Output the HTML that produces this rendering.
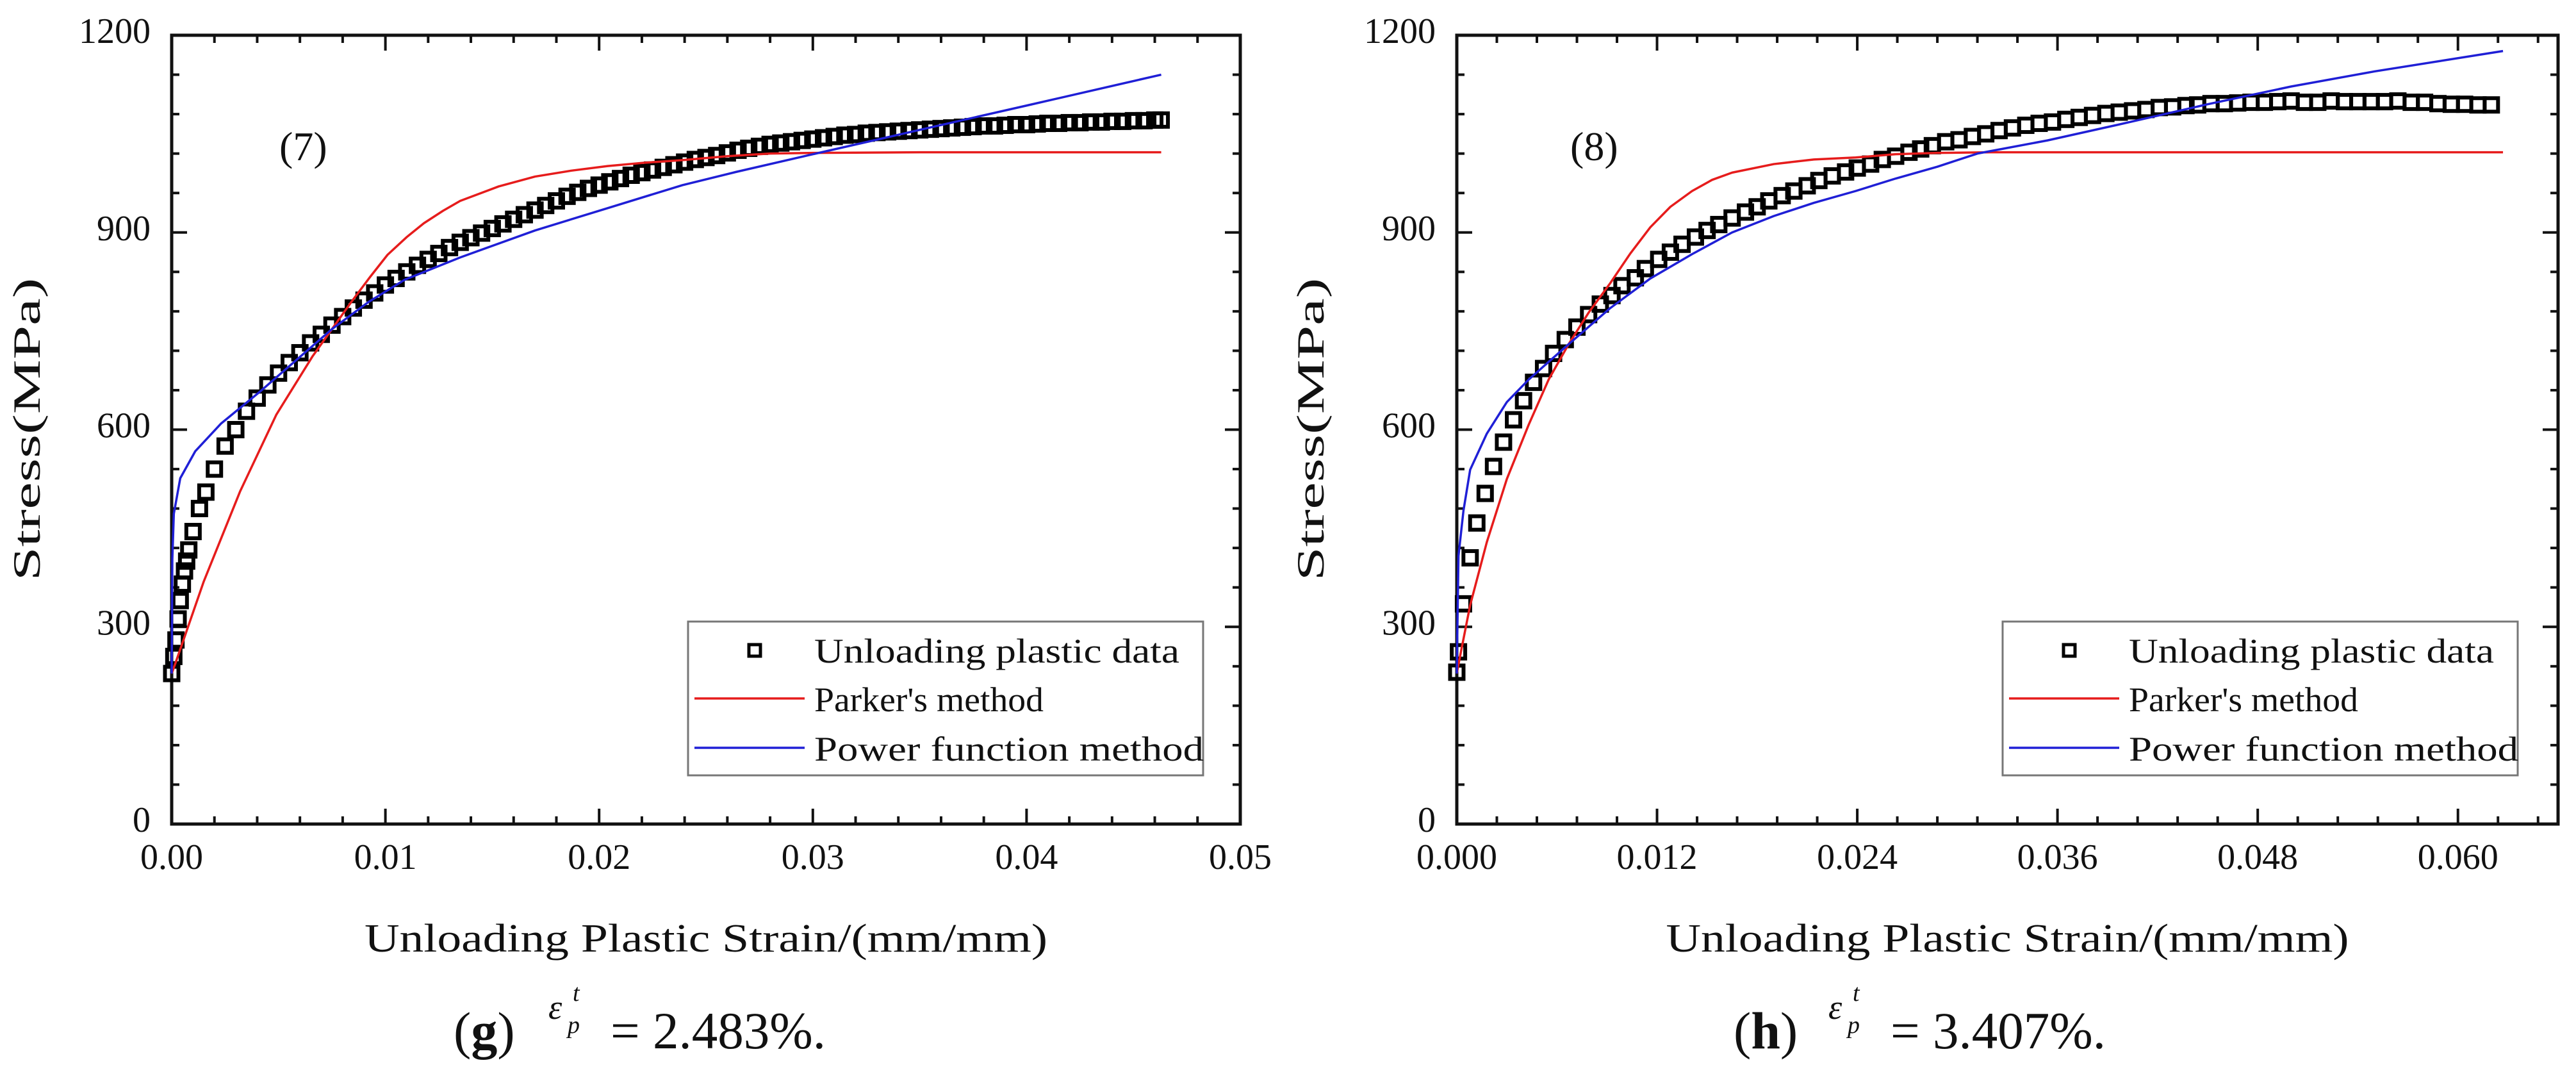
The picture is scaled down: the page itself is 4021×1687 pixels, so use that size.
<!DOCTYPE html>
<html><head><meta charset="utf-8"><style>
html,body{margin:0;padding:0;background:#fff;}
svg{display:block;}
text{font-family:"Liberation Serif",serif;fill:#111;}
</style></head><body>
<svg id="chart" xmlns="http://www.w3.org/2000/svg" width="4021" height="1687" viewBox="0 0 4021 1687">
<rect width="4021" height="1687" fill="#fff"/>
</svg>
<script>
// ---------- data: panel (g) ----------
const gDataX=[0,.0001,.0002,.0003,.0004,.0005,.0006,.0007,.0008,.001,.0013,.0016,.002,.0025,.003,.0035,.004,.0045,.005,.0055,.006,.0065,.007,.0075,.008,.0085,.009,.0095,.010,.0105,.011,.0115,.012,.0125,.013,.0135,.014,.0145,.015,.0155,.016,.0165,.017,.0175,.018,.0185,.019,.0195,.020,.0205,.021,.0215,.022,.0225,.023,.0235,.024,.0245,.025,.0255,.026,.0265,.027,.0275,.028,.0285,.029,.0295,.030,.0305,.031,.0315,.032,.0325,.033,.0335,.034,.0345,.035,.0355,.036,.0365,.037,.0375,.038,.0385,.039,.0395,.040,.0405,.041,.0415,.042,.0425,.043,.0435,.044,.0445,.045,.0455,.046,.0463];
const gDataY=[229,255,280,312,340,365,385,400,417,445,480,505,540,575,600,628,648,668,686,702,717,732,745,759,772,785,797,808,820,830,840,850,859,868,877,885,892,899,906,913,920,927,934,941,948,955,961,967,972,977,982,987,991,995,999,1003,1007,1011,1014,1017,1021,1025,1028,1031,1034,1036,1038,1040,1042,1044,1046,1048,1049,1051,1052,1053,1054,1055,1056,1057,1058,1059,1060,1061,1062,1062,1063,1064,1064,1065,1066,1066,1067,1067,1068,1068,1069,1069,1070,1070,1071,1071];
const gParkerX=[0,.0002,.0015,.0032,.0049,.0066,.0084,.0093,.0101,.011,.0118,.0127,.0135,.0153,.017,.0187,.0204,.0221,.0239,.026,.028,.030,.035,.040,.0463];
const gParkerY=[229,247,369,506,623,712,794,833,866,893,914,933,948,970,985,994,1001,1006,1010,1016,1020,1021,1022,1022,1022];
const gPowerX=[0,.00003,.0001,.0004,.0011,.0023,.0041,.0058,.0075,.0092,.0109,.0135,.017,.0204,.0239,.0264,.030,.035,.040,.0463];
const gPowerY=[229,403,472,526,567,609,657,705,753,794,828,862,903,937,972,992,1019,1056,1093,1140];
const gXTicks=[0,0.01,0.02,0.03,0.04,0.05];
const gXLabels=["0.00","0.01","0.02","0.03","0.04","0.05"];
// ---------- data: panel (h) ----------
const hDataX=[0,.0001,.0004,.0008,.0012,.0017,.0022,.0028,.0034,.004,.0046,.0052,.0058,.0065,.0072,.0079,.0086,.0093,.0099,.0107,.0113,.0121,.0128,.0135,.0143,.015,.0157,.0165,.0173,.018,.0187,.0195,.0202,.021,.0217,.0225,.0233,.024,.0248,.0255,.0263,.0271,.0278,.0285,.0293,.0301,.0309,.0317,.0325,.0333,.0341,.0349,.0357,.0365,.0373,.0381,.0389,.0397,.0405,.0413,.0421,.0429,.0437,.0444,.0452,.046,.0468,.0476,.0484,.0492,.05,.0508,.0516,.0524,.0532,.054,.0548,.0556,.0564,.0572,.058,.0588,.0596,.0604,.0612,.062];
const hDataY=[231,262,335,405,458,503,544,581,615,644,672,693,716,737,756,775,791,804,819,831,845,859,870,882,893,903,912,922,931,939,948,956,963,971,979,986,992,998,1004,1011,1016,1022,1027,1032,1038,1041,1046,1050,1055,1059,1063,1066,1068,1072,1075,1078,1081,1083,1085,1087,1090,1091,1093,1094,1096,1096,1097,1098,1098,1099,1100,1098,1098,1100,1099,1099,1099,1099,1100,1098,1098,1096,1095,1095,1094,1094];
const hParkerX=[0,.0001,.0008,.0018,.003,.0043,.0055,.0067,.0079,.0092,.0104,.0116,.0128,.0141,.0153,.0165,.019,.0214,.0239,.0263,.0288,.032,.040,.050,.0627];
const hParkerY=[229,243,333,429,525,607,676,730,778,823,868,908,939,963,980,991,1004,1011,1014,1019,1021,1022,1022,1022,1022];
const hPowerX=[0,.00002,.0001,.0004,.0008,.0018,.003,.0043,.0055,.0067,.0092,.0116,.0141,.0165,.019,.0214,.0239,.0263,.0288,.0312,.0354,.040,.045,.050,.055,.0627];
const hPowerY=[229,272,408,477,539,594,642,676,703,730,785,830,867,900,925,945,963,982,1000,1020,1040,1066,1095,1122,1145,1176];
const hXTicks=[0,0.012,0.024,0.036,0.048,0.060];
const hXLabels=["0.000","0.012","0.024","0.036","0.048","0.060"];
// ---------- shared y axis ----------
const yTicks=[0,300,600,900,1200];
const yLabels=["0","300","600","900","1200"];
const legendLabels=["Unloading plastic data","Parker's method","Power function method"];

const NS="http://www.w3.org/2000/svg";
const svg=document.getElementById('chart');
function mk(tag,attrs,parent){const e=document.createElementNS(NS,tag);for(const k in attrs)e.setAttribute(k,attrs[k]);(parent||svg).appendChild(e);return e;}

function panel(p){
  const g=mk('g',{});
  
  
  const L=p.left,R=p.right,T=55,B=1286;
  const X=v=>L+(v-0)/(p.xmax)*(R-L);
  const Y=v=>B-v/1200*(B-T);
  const tg=mk('g',{stroke:'#111','stroke-width':4},g);
  
  
  for(let i=0;i<=p.xmax/p.minor+0.01;i++){
    const v=i*p.minor,x=X(v);if(x>R-3)continue;
    const major=Math.abs(v/p.major-Math.round(v/p.major))<1e-6;const len=major?24:12;
    mk('line',{x1:x,y1:B,x2:x,y2:B-len},tg);mk('line',{x1:x,y1:T,x2:x,y2:T+len},tg);
  }
  for(let v=0;v<=1200;v+=60){const y=Y(v);const major=v%300===0;const len=major?24:12;
    mk('line',{x1:L,y1:y,x2:L+len,y2:y},tg);mk('line',{x1:R,y1:y,x2:R-len,y2:y},tg);}
  const fr=mk('rect',{x:L,y:T,width:R-L,height:B-T,fill:'none',stroke:'#111','stroke-width':5},g);
  
  
  p.xTicks.forEach((v,i)=>{const t=mk('text',{x:X(v),y:1356,'font-size':56,'text-anchor':'middle'},g);t.textContent=p.xLabels[i];
    
    });
  yTicks.forEach((v,i)=>{const t=mk('text',{x:L-33,y:Y(v)+12,'font-size':56,'text-anchor':'end'},g);t.textContent=yLabels[i];
    
    });
  const xt=mk('text',{x:(L+R)/2,y:1485,'font-size':62,'text-anchor':'middle',textLength:1066,lengthAdjust:'spacingAndGlyphs',fill:'#222'},g);
  xt.textContent='Unloading Plastic Strain/(mm/mm)';
  
  
  const yt=mk('text',{x:0,y:0,'font-size':60,'text-anchor':'middle',textLength:473,lengthAdjust:'spacingAndGlyphs',transform:`translate(${p.ytx},670) rotate(-90)`,fill:'#222'},g);
  yt.textContent='Stress(MPa)';
  
  
  const pid=mk('text',{x:p.idx,y:250,'font-size':64},g);pid.textContent=p.id;
  
  
  const mg=mk('g',{fill:'none',stroke:'#000','stroke-width':6},g);
  
  
  p.dx.forEach((v,i)=>{const r=mk('rect',{x:X(v)-10.5,y:Y(p.dy[i])-10.5,width:21,height:21},mg);
    
    });
  const rp=mk('polyline',{points:p.rx.map((v,i)=>X(v)+','+Y(p.ry[i])).join(' '),fill:'none',stroke:'#e61c1c','stroke-width':3.5,'stroke-linejoin':'round'},g);
  
  
  const bp=mk('polyline',{points:p.bx.map((v,i)=>X(v)+','+Y(p.by[i])).join(' '),fill:'none',stroke:'#1f1fd6','stroke-width':3.5,'stroke-linejoin':'round'},g);
  
  
  const lg=mk('g',{},g);
  
  
  const bx=p.legX;
  mk('rect',{x:bx,y:970,width:804,height:240,fill:'#fff',stroke:'#777','stroke-width':3},lg);
  const m=mk('rect',{x:bx+95,y:1006,width:18,height:18,fill:'none',stroke:'#000','stroke-width':5},lg);
  
  
  const l1=mk('line',{x1:bx+10,y1:1090,x2:bx+182,y2:1090,stroke:'#e61c1c','stroke-width':3.5},lg);
  
  
  const l2=mk('line',{x1:bx+10,y1:1167,x2:bx+182,y2:1167,stroke:'#1f1fd6','stroke-width':3.5},lg);
  
  
  const lens=[570,358,608];const ys=[1034,1110,1187];
  legendLabels.forEach((s,i)=>{const t=mk('text',{x:bx+197,y:ys[i],'font-size':54,textLength:lens[i],lengthAdjust:'spacingAndGlyphs',fill:'#222'},lg);t.textContent=s;
    
    });
  const cx=p.capX;
  const cg=mk('g',{},g);
  
  
  const c1=mk('text',{x:cx,y:1636,'font-size':82},cg);
  c1.innerHTML='(<tspan font-weight="bold">'+p.letter+'</tspan>)';
  const c2=mk('text',{x:cx+148,y:1590,'font-size':54,'font-style':'italic'},cg);c2.textContent='ε';
  const c3=mk('text',{x:cx+186,y:1562,'font-size':38,'font-style':'italic'},cg);c3.textContent='t';
  const c4=mk('text',{x:cx+178,y:1612,'font-size':38,'font-style':'italic'},cg);c4.textContent='p';
  const c5=mk('text',{x:cx+245,y:1636,'font-size':82,textLength:336,lengthAdjust:'spacingAndGlyphs'},cg);c5.textContent='= '+p.val;
}
panel({name:'panel-g',left:268,right:1936,xmax:0.05,minor:0.002,major:0.01,xTicks:gXTicks,xLabels:gXLabels,ytx:62,idx:436,id:'(7)',
  dx:gDataX,dy:gDataY,rx:gParkerX,ry:gParkerY,bx:gPowerX,by:gPowerY,legX:1074,capX:708,letter:'g',val:'2.483%.'});
panel({name:'panel-h',left:2274,right:3993,xmax:0.066,minor:0.0024,major:0.012,xTicks:hXTicks,xLabels:hXLabels,ytx:2066,idx:2451,id:'(8)',
  dx:hDataX,dy:hDataY,rx:hParkerX,ry:hParkerY,bx:hPowerX,by:hPowerY,legX:3126,capX:2706,letter:'h',val:'3.407%.'});
</script>
</body></html>
